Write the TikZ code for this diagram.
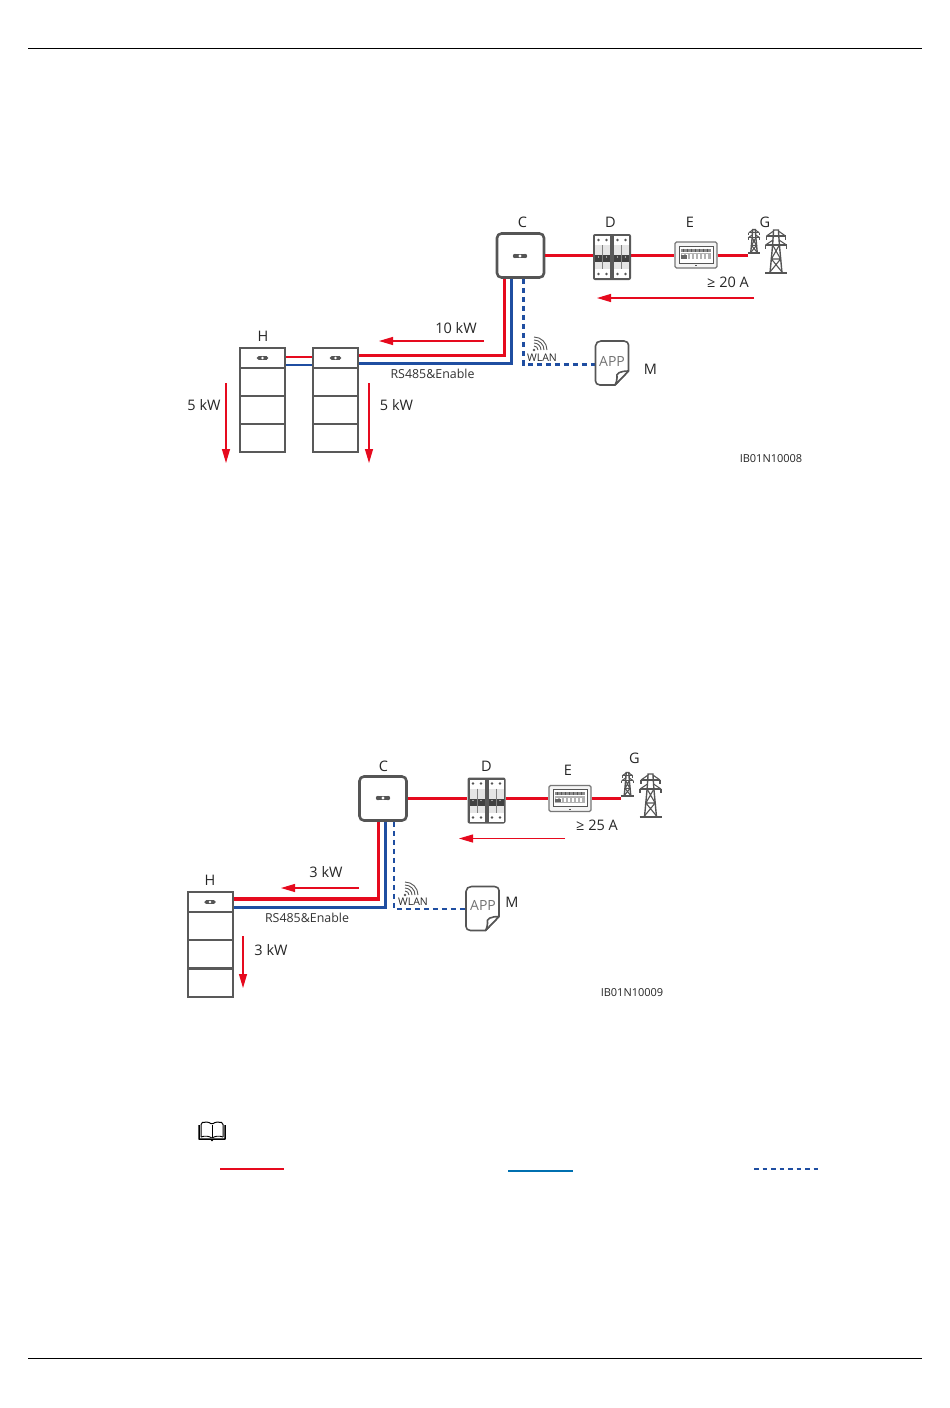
\documentclass[tikz,border=0pt]{standalone}
\usepackage{fontspec}
\setmainfont{Open Sans}
\usetikzlibrary{arrows.meta}
\definecolor{pwr}{HTML}{E60A1E}
\definecolor{sig}{HTML}{1F4EA1}
\definecolor{dev}{HTML}{555555}
\definecolor{legblue}{HTML}{0070B0}
\tikzset{
  x=1pt,y=-1pt,
  rule/.style={line width=0.9pt,black},
  lbl/.style={font=\fontsize{14.5}{16}\selectfont,text=black!85,inner sep=0pt},
  smalllbl/.style={font=\fontsize{12.4}{14}\selectfont,text=black!80,inner sep=0pt},
  codelbl/.style={font=\fontsize{11}{13}\selectfont,text=black!85,inner sep=0pt},
  wlanlbl/.style={font=\fontsize{10.5}{12}\selectfont,text=black!85,inner sep=0pt},
  redline/.style={pwr,line width=3pt},
  blueline/.style={sig,line width=3pt},
  dashline/.style={sig,line width=2.4pt,dash pattern=on 5pt off 4pt},
  flow/.style={pwr,line width=1.1pt,-{Triangle[length=14pt,width=8pt]}},
  invbox/.style={draw=dev,line width=2.6pt,rounded corners=4.5pt,fill=white,minimum width=47pt,minimum height=44pt,inner sep=0pt},
  brkbox/.style={minimum width=38pt,minimum height=46pt,inner sep=0pt},
  mtrbox/.style={draw=dev!80,line width=1.3pt,rounded corners=1.5pt,fill=black!4,minimum width=42pt,minimum height=26pt,inner sep=0pt},
  batbox/.style={draw=black!65,line width=2pt,fill=white,minimum width=45pt,inner sep=0pt},
  appbox/.style={minimum width=33pt,minimum height=44pt,inner sep=0pt},
  pillpic/.pic={
    \fill[dev] (-5,-2.2) rectangle (5,2.2);
    \fill[dev] (-5,0) circle (2.2) (5,0) circle (2.2);
    \fill[white] (0,0) circle (1.7);
  },
  brkpic/.pic={
    \fill[black!65,rounded corners=2pt] (-19,-23) rectangle (19,23);
    \foreach \d in {-18,1}{
      \fill[white] (\d+1,-21) rectangle (\d+16,-12);
      \fill[black!10] (\d+1,-12) rectangle (\d+16,-2);
      \fill[black!75] (\d+1,-2) rectangle (\d+16,5);
      \fill[black!10] (\d+1,5) rectangle (\d+16,12);
      \fill[white] (\d+1,12) rectangle (\d+16,21);
      \draw[black!50,line width=0.6pt] (\d+8.5,-12) -- (\d+8.5,12);
      \foreach \s in {4.5,12.5}{
        \fill[dev] (\d+\s,-17) circle (1.3) (\d+\s,17) circle (1.3);
        \fill[white] (\d+\s,0) circle (0.7);
      }
    }
  },
  mtrpic/.pic={
    \draw[dev,line width=0.7pt,fill=white] (-17,-9) rectangle (17,8);
    \fill[black!45] (-15,-6.5) rectangle (15,-3.5);
    \fill[black!30] (-15,-2.5) rectangle (15,4);
    \foreach \i in {-13,-9,...,13}{ \fill[white] (\i-1,-1) rectangle (\i+1,3.5);
      \draw[dev,line width=0.4pt] (\i,-6.5) -- (\i,-3.5); }
    \fill[black!60] (-15,0) rectangle (-9,3.5);
    \fill[dev] (-1,10) rectangle (1,11);
  },
  towerpic/.pic={
    \draw[dev,line width=1.4pt] (-6,22) -- (-3.4,-6) -- (-2.4,-21) -- (2.4,-21) -- (3.4,-6) -- (6,22);
    \draw[dev,line width=1.4pt] (-9.5,-15) -- (9.5,-15) (-10.5,-6) -- (10.5,-6);
    \draw[dev,line width=1.2pt] (-9.5,-15) -- (-9.5,-11) (9.5,-15) -- (9.5,-11) (-10.5,-6) -- (-10.5,-2) (10.5,-6) -- (10.5,-2);
    \draw[dev,line width=1.1pt] (-9.5,-15) -- (-2.4,-20) (9.5,-15) -- (2.4,-20) (-10.5,-6) -- (-3,-11) (10.5,-6) -- (3,-11);
    \draw[dev,line width=1.1pt] (-3.4,-6) -- (4.6,8) -- (-6,21) (3.4,-6) -- (-4.6,8) -- (6,21) (-4.6,8) -- (4.6,8);
    \draw[dev,line width=2pt] (-11,22) -- (11,22);
  },
  apppic/.pic={
    \draw[dev,line width=1.6pt,line join=round,fill=white]
      (-11,-22) -- (12,-22) .. controls (15,-22) and (16.5,-20) .. (16.5,-18) -- (16.5,8)
      -- (3,22) -- (-12,22) .. controls (-15,22) and (-16.5,20) .. (-16.5,18) -- (-16.5,-17)
      .. controls (-16.5,-20) and (-14,-22) .. (-11,-22) -- cycle;
    \draw[dev,line width=1.6pt,line join=round,fill=white]
      (16.5,8) .. controls (9,8) and (3,10) .. (5,15) .. controls (5,18) and (4,20) .. (3,22) -- cycle;
  },
  wifipic/.pic={
    \fill[dev] (-6,5) circle (1.4);
    \foreach \r in {4,7,10,13}{
      \draw[dev,line width=0.9pt] (-6,5-\r) .. controls (-6+.55*\r,5-\r) and (-6+\r,5-.55*\r) .. (-6+\r,5);
    }
  },
  bookpic/.pic={
    \draw[black,line width=1.5pt,line join=round] (-13,-6) -- (-13,8) -- (-1,8) -- (0,9.5) -- (1,8) -- (13,8) -- (13,-6);
    \draw[black,line width=1pt,rounded corners=1.5pt] (-11,6) -- (-11,-8) .. controls (-7,-9.5) and (-3,-9) .. (0,-6.5) .. controls (3,-9) and (7,-9.5) .. (11,-8) -- (11,6);
    \draw[black,line width=0.7pt] (0,-6.5) -- (0,7);
    \draw[black,line width=0.9pt] (-11,6) .. controls (-7,4.5) and (-3,5) .. (0,7) .. controls (3,5) and (7,4.5) .. (11,6);
  }
}
\begin{document}
\begin{tikzpicture}
\useasboundingbox (0,0) rectangle (950,1408);
\fill[white] (0,0) rectangle (950,1408);
% page rules
\coordinate (hl) at (28,48); \coordinate (hr) at (922,48);
\coordinate (fl) at (28,1358); \coordinate (fr) at (922,1358);
\draw[rule] (hl) -- (hr);
\draw[rule] (fl) -- (fr);

% ===== upper diagram =====
\node[invbox] (C1) at (520.5,255.5) {};
\pic at (520,256) {pillpic};
\node[brkbox] (D1) at (612,257) {};
\node[mtrbox] (E1) at (696,255) {};
\pic at (696,255) {mtrpic};
\node[inner sep=0pt,minimum width=12pt,minimum height=24pt] (G1a) at (754,241) {};
\pic[scale=0.55] at (754,241) {towerpic};
\node[inner sep=0pt,minimum width=22pt,minimum height=44pt] (G1b) at (776,251) {};
\pic at (776,251) {towerpic};
\node[appbox] (M1) at (612,363) {};
\node[batbox,minimum height=20pt] (B1t) at (262.5,358) {};
\node[batbox,minimum height=28pt] at (262.5,382) {};
\node[batbox,minimum height=28pt] at (262.5,410) {};
\node[batbox,minimum height=28pt] at (262.5,438) {};
\pic[scale=.8] at (262.5,358) {pillpic};
\node[batbox,minimum height=20pt] (B2t) at (335.5,358) {};
\node[batbox,minimum height=28pt] at (335.5,382) {};
\node[batbox,minimum height=28pt] at (335.5,410) {};
\node[batbox,minimum height=28pt] at (335.5,438) {};
\pic[scale=.8] at (335.5,358) {pillpic};
% lines
\draw[redline] (C1.east) -- (C1.east -| D1.west);
\draw[redline] (D1.east |- C1.east) -- (C1.east -| E1.west);
\draw[redline] (E1.east |- C1.east) -- (C1.east -| G1a.west);
\pic at (612,257) {brkpic};
\coordinate (r1) at (504,355); \coordinate (b1) at (511,363); \coordinate (d1) at (523.5,364.5);
\draw[redline,line join=miter] (C1.south -| r1) -- (r1) -- (r1 -| B2t.east);
\draw[blueline,line join=miter] (C1.south -| b1) -- (b1) -- (b1 -| B2t.east);
\draw[redline,line width=2.4pt] (B1t.east |- 0,357) -- (B2t.west |- 0,357);
\draw[blueline,line width=2.4pt] (B1t.east |- 0,365) -- (B2t.west |- 0,365);
\draw[dashline] (C1.south -| d1) -- (d1) -- (d1 -| M1.west);
\pic at (612,363) {apppic};
\node[font=\fontsize{14}{16}\selectfont,text=black!55,inner sep=0pt] (app1) at (612,361) {APP};
\pic at (540,345) {wifipic};
\node[wlanlbl] (wl1) at (542,358) {WLAN};
% flow arrows
\coordinate (f1a) at (754,298); \coordinate (f1b) at (597,298);
\draw[flow] (f1a) -- (f1b);
\coordinate (f2a) at (484,341); \coordinate (f2b) at (379,341);
\draw[flow] (f2a) -- (f2b);
\coordinate (f3a) at (226,383); \coordinate (f3b) at (226,463);
\draw[flow] (f3a) -- (f3b);
\coordinate (f4a) at (369,383); \coordinate (f4b) at (369,463);
\draw[flow] (f4a) -- (f4b);
% labels
\node[lbl] (tC1) at (522.5,222) {C};
\node[lbl] (tD1) at (610.5,222) {D};
\node[lbl] (tE1) at (690,222) {E};
\node[lbl] (tG1) at (765,222) {G};
\node[lbl] (tA1) at (728,282) {≥ 20 A};
\node[lbl] (tM1) at (650.5,369) {M};
\node[lbl] (tH1) at (263,336) {H};
\node[lbl] (tP1) at (456,328) {10 kW};
\node[lbl] (tP2) at (204,405) {5 kW};
\node[lbl] (tP3) at (396.5,405) {5 kW};
\node[smalllbl] (tR1) at (432.5,373.5) {RS485\&Enable};
\node[codelbl] (tI1) at (771,459) {IB01N10008};

% ===== lower diagram =====
\node[invbox] (C2) at (383,798.5) {};
\pic at (383,798) {pillpic};
\node[brkbox] (D2) at (486.5,800.5) {};
\node[mtrbox] (E2) at (570,798.5) {};
\pic at (570,798.5) {mtrpic};
\node[inner sep=0pt,minimum width=12pt,minimum height=24pt] (G2a) at (627.5,784) {};
\pic[scale=0.55] at (627.5,784) {towerpic};
\node[inner sep=0pt,minimum width=22pt,minimum height=44pt] (G2b) at (650.5,795) {};
\pic at (650.5,795) {towerpic};
\node[appbox] (M2) at (482.5,908.5) {};
\node[batbox,minimum height=20pt] (B3t) at (210,902) {};
\node[batbox,minimum height=28pt] at (210,926) {};
\node[batbox,minimum height=28pt] at (210,954) {};
\node[batbox,minimum height=28pt] at (210,982.5) {};
\pic[scale=.8] at (210,902) {pillpic};
\draw[redline] (C2.east) -- (C2.east -| D2.west);
\draw[redline] (D2.east |- C2.east) -- (C2.east -| E2.west);
\draw[redline] (E2.east |- C2.east) -- (C2.east -| G2a.west);
\pic at (486.5,800.5) {brkpic};
\coordinate (r2) at (378.5,899); \coordinate (b2) at (385,907); \coordinate (d2) at (394,909);
\draw[redline,line join=miter,line width=3.4pt] (C2.south -| r2) -- (r2) -- (r2 -| B3t.east);
\draw[blueline,line join=miter] (C2.south -| b2) -- (b2) -- (b2 -| B3t.east);
\draw[dashline,line width=2.8pt] (C2.south -| d2) -- (d2) -- (d2 -| M2.west);
\pic at (482.5,908.5) {apppic};
\node[font=\fontsize{14}{16}\selectfont,text=black!55,inner sep=0pt] (app2) at (483,905) {APP};
\pic at (411,890) {wifipic};
\node[wlanlbl] (wl2) at (413,902) {WLAN};
\coordinate (f5a) at (565,838.5); \coordinate (f5b) at (459,838.5);
\draw[flow] (f5a) -- (f5b);
\coordinate (f6a) at (359,888); \coordinate (f6b) at (281,888);
\draw[flow] (f6a) -- (f6b);
\coordinate (f7a) at (243,936); \coordinate (f7b) at (243,988);
\draw[flow] (f7a) -- (f7b);
\node[lbl] (tC2) at (383.5,766) {C};
\node[lbl] (tD2) at (486.5,766) {D};
\node[lbl] (tE2) at (568,770) {E};
\node[lbl] (tG2) at (634.5,758) {G};
\node[lbl] (tA2) at (597,825) {≥ 25 A};
\node[lbl] (tM2) at (512,902) {M};
\node[lbl] (tH2) at (210,880) {H};
\node[lbl] (tP4) at (326,872) {3 kW};
\node[lbl] (tP5) at (271,950) {3 kW};
\node[smalllbl] (tR2) at (307,918) {RS485\&Enable};
\node[codelbl] (tI2) at (632,993) {IB01N10009};

% ===== note and legend =====
\pic at (212,1131) {bookpic};
\coordinate (l1a) at (220,1169); \coordinate (l1b) at (284,1169);
\draw[pwr,line width=1.6pt] (l1a) -- (l1b);
\coordinate (l2a) at (508,1171); \coordinate (l2b) at (573,1171);
\draw[legblue,line width=1.8pt] (l2a) -- (l2b);
\coordinate (l3a) at (754,1169); \coordinate (l3b) at (818,1169);
\draw[sig,line width=1.6pt,dash pattern=on 4.5pt off 4pt] (l3a) -- (l3b);
\end{tikzpicture}
\end{document}
